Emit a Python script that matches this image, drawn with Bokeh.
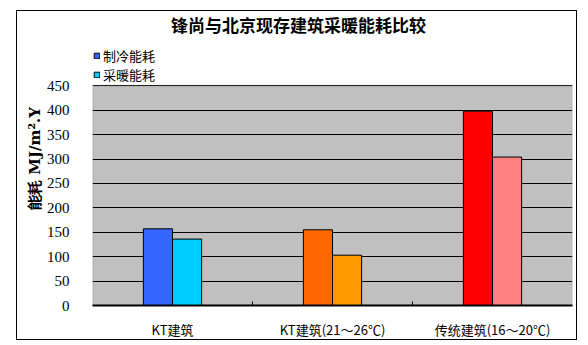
from bokeh.plotting import figure
from bokeh.models import (ColumnDataSource, FixedTicker, Label, BoxAnnotation,
                          Legend, LegendItem, Range1d)
from bokeh.transform import dodge
from bokeh.embed import file_html
from bokeh.resources import INLINE

# ---- data ----
categories = ["KT建筑", "KT建筑(21～26℃)", "传统建筑(16～20℃)"]
cooling = [157, 155, 398]      # 制冷能耗
heating = [136, 103, 304]      # 采暖能耗
cooling_colors = ["#3366FF", "#FF6600", "#FF0000"]
heating_colors = ["#00CCFF", "#FF9900", "#FF8080"]
y_ticks = [0, 50, 100, 150, 200, 250, 300, 350, 400, 450]
title_text = "锋尚与北京现存建筑采暖能耗比较"
y_title = "能耗 MJ/m².Y"
legend_labels = ["制冷能耗", "采暖能耗"]

y_max = y_ticks[-1]
# frame spans the whole inner box; the value axis occupies the lower 219 of 293 px
frame_h, plot_h = 293, 219
y_end = y_max * frame_h / plot_h

xc = [i + 0.5 for i in range(len(categories))]
src = ColumnDataSource(dict(x=xc, cool=cooling, heat=heating,
                            cc=cooling_colors, hc=heating_colors))

p = figure(width=561, height=330, output_backend="svg", toolbar_location=None, title=None,
           x_range=Range1d(0, len(categories)), y_range=Range1d(0, y_end),
           min_border_left=75, min_border_right=6, min_border_top=0, min_border_bottom=35)
p.margin = (10, 0, 0, 16)
p.styles = {"border": "1px solid black", "box-sizing": "border-box"}
p.background_fill_color = "white"
p.border_fill_color = "white"
p.outline_line_color = None

# grey plot area (below grid) and its grey border
p.add_layout(BoxAnnotation(bottom=0, top=y_max, fill_color="#C0C0C0", fill_alpha=1,
                           line_color=None, level="image"))
p.add_layout(BoxAnnotation(bottom=0, top=y_max, fill_color=None, line_color="#808080",
                           line_width=2, level="underlay"))

bw = 0.182
r1 = p.vbar(x=dodge("x", -bw / 2), top="cool", width=bw, source=src,
            fill_color="cc", line_color="black", line_width=1)
r2 = p.vbar(x=dodge("x", bw / 2), top="heat", width=bw, source=src,
            fill_color="hc", line_color="black", line_width=1)

# axes
p.xaxis.ticker = FixedTicker(ticks=xc, minor_ticks=[1, 2])
p.xaxis.major_label_overrides = {x: c for x, c in zip(xc, categories)}
p.xaxis.major_tick_line_color = None
p.xaxis.minor_tick_in = 4
p.xaxis.minor_tick_out = 0
p.xaxis.minor_tick_line_color = "black"
p.xaxis.axis_line_color = "black"
p.xaxis.axis_line_width = 2
p.xaxis.major_label_standoff = 8
p.xaxis.major_label_text_font = "Noto Sans CJK SC"
p.xaxis.major_label_text_font_size = "13px"
p.xaxis.major_label_text_color = "black"

p.yaxis.ticker = FixedTicker(ticks=y_ticks, minor_ticks=[])
p.yaxis.major_tick_line_color = None
p.yaxis.minor_tick_line_color = None
p.yaxis.axis_line_color = None
p.yaxis.major_label_standoff = 17
p.yaxis.major_label_text_font = "Liberation Sans Narrow"
p.yaxis.major_label_text_font_size = "15px"
p.yaxis.major_label_text_color = "black"
p.yaxis.axis_label = y_title
p.yaxis.axis_label_text_font = "DejaVu Serif"
p.yaxis.axis_label_text_font_style = "bold"
p.yaxis.axis_label_text_font_size = "15px"
p.yaxis.axis_label_text_color = "black"
p.yaxis.axis_label_standoff = 0

p.xgrid.grid_line_color = None
p.ygrid.grid_line_color = "black"
p.ygrid.grid_line_width = 1

# title (inside the frame, above the value area)
p.add_layout(Label(x=1.287, y=575, text=title_text,
                   text_align="center", text_baseline="middle",
                   text_font="Noto Sans CJK SC", text_font_style="bold",
                   text_font_size="17px", text_color="black"))

legend = Legend(items=[LegendItem(label=legend_labels[0], renderers=[r1], index=0),
                       LegendItem(label=legend_labels[1], renderers=[r2], index=0)],
                location=(1, 221), orientation="vertical",
                glyph_width=7, glyph_height=7, label_standoff=3, spacing=0,
                padding=0, margin=0, border_line_color=None, background_fill_alpha=0,
                label_text_font="Noto Sans CJK SC", label_text_font_size="13px",
                label_text_color="black")
p.add_layout(legend, "center")

open("out.html", "w").write(file_html(p, INLINE))
